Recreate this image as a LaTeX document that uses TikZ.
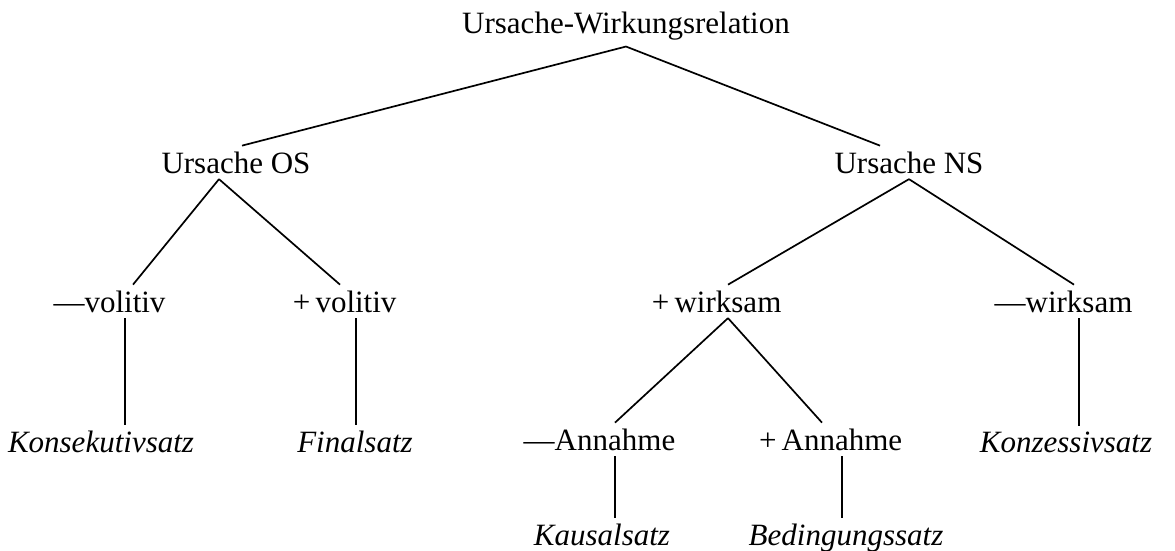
\documentclass[tikz,border=0pt]{standalone}
\usepackage{fontspec}
\setmainfont{Liberation Serif}
\usepackage{tikz}

\begin{document}
\begin{tikzpicture}[x=1pt,y=-1pt,line width=1.7pt,font=\fontsize{31}{36}\selectfont] % tree of relations
\tikzstyle{lbl}=[anchor=base,inner sep=5pt]
\tikzstyle{leaf}=[lbl,font=\fontsize{31}{36}\selectfont\itshape]
\useasboundingbox (0,0) rectangle (1175,551);

% top
\draw (626,34) node[lbl] (rel) {Ursache-Wirkungsrelation}; % root
\draw (236,173) node[lbl] (os) {Ursache OS}; % OS
\draw (909,173) node[lbl] (ns) {Ursache NS}; % NS

% second row
\draw (125,312) node[lbl] (nvol) {\llap{—}volitiv}; % -volitiv
\draw (356,312) node[lbl] (pvol) {\llap{+\,}volitiv}; % +volitiv
\draw (728,312) node[lbl] (pwirk) {\llap{+\,}wirksam}; % +wirksam
\draw (1079,312) node[lbl] (nwirk) {\llap{—}wirksam}; % -wirksam

% third row
\draw (101,452) node[leaf] (konsek) {Konsekutivsatz};
\draw (355,452) node[leaf] (final) {Finalsatz};
\draw (615,450) node[lbl] (nann) {\llap{—}Annahme}; % -Annahme
\draw (842,450) node[lbl] (pann) {\llap{+\,}Annahme}; % +Annahme
\draw (1066,452) node[leaf] (konz) {Konzessivsatz};

% last row
\draw (602,545) node[leaf] (kaus) {Kausalsatz};
\draw (846,545) node[leaf] (beding) {Bedingungssatz};

% branches
\draw (rel.south) -- ([xshift=6pt]os.north) (rel.south) -- ([xshift=-29pt]ns.north);
\draw ([xshift=-17pt]os.south) -- ([xshift=8pt]nvol.north);
\draw ([xshift=-17pt]os.south) -- ([xshift=-16pt]pvol.north);
\draw (ns.south) -- (pwirk.north) (ns.south) -- ([xshift=-5pt]nwirk.north);
\draw (pwirk.south) -- (nann.north) (pwirk.south) -- ([xshift=-20pt]pann.north);

% verticals
\draw (nvol.south) -- (nvol.south |- konsek.north);
\draw (pvol.south) -- (pvol.south |- final.north);
\draw (nwirk.south) -- (nwirk.south |- konz.north);
\draw (nann.south) -- (nann.south |- kaus.north);
\draw (pann.south) -- (pann.south |- beding.north);
\end{tikzpicture}
\end{document}
